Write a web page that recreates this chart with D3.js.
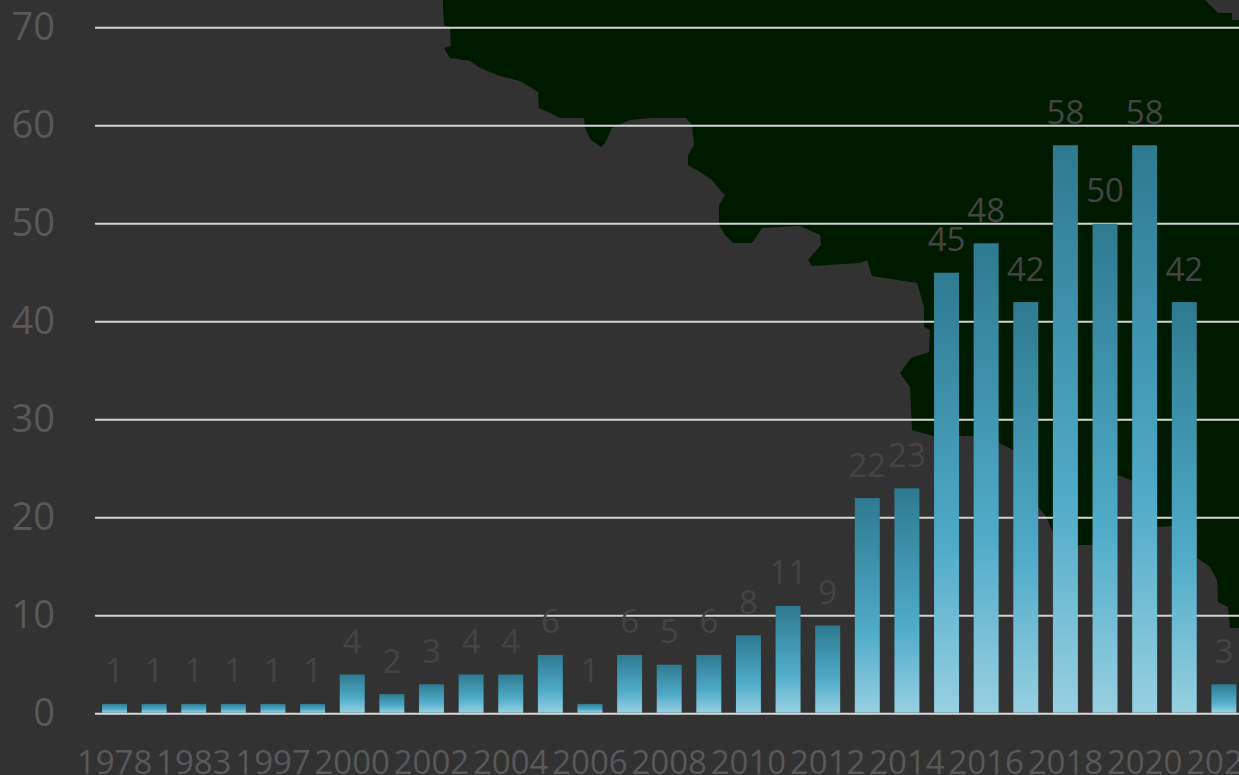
<!DOCTYPE html>
<html><head><meta charset="utf-8">
<style>html,body{margin:0;padding:0;background:#323232;overflow:hidden}svg{display:block}</style>
<script src="https://cdn.jsdelivr.net/npm/d3@7"></script>
</head><body><svg id="c" width="1239" height="775"></svg>
<script>
const years = ["1978","1980","1983","1990","1997","1999","2000","2001","2002","2003","2004","2005","2006","2007","2008","2009","2010","2011","2012","2013","2014","2015","2016","2017","2018","2019","2020","2021","2022"];
const counts = [1,1,1,1,1,1,4,2,3,4,4,6,1,6,5,6,8,11,9,22,23,45,48,42,58,50,58,42,3];
const shownYears = years.filter((d,i)=>i%2===0);
const yTicks = [0,10,20,30,40,50,60,70];
// decorative backdrop outline (picture pixels)
const backdropOutline = [[443,0],[443,7],[444,25],[450,28],[451,46],[444,48],[450,58],[470,61],[480,68],[500,76],[520,81],[530,87],[538,92],[539,108],[550,113],[560,118],[584,118],[585,128],[591,140],[601,147],[605,143],[612,128],[630,120],[650,118],[686,118],[692,125],[694,145],[688,155],[688,165],[700,172],[712,180],[720,190],[725,195],[719,205],[719,225],[725,235],[733,243],[752,243],[762,228],[800,226],[820,235],[821,245],[808,260],[812,266],[860,263],[867,260],[872,276],[917,283],[924,307],[924,327],[930,330],[929,352],[911,358],[900,373],[910,387],[912,430],[933,436],[960,436],[974,436],[999,443],[1013,450],[1025,470],[1038,507],[1045,515],[1053,532],[1078,545],[1092,545],[1105,500],[1118,475],[1133,481],[1145,505],[1158,527],[1172,526],[1197,528],[1197,558],[1210,567],[1217,580],[1218,602],[1228,607],[1230,628],[1239,628],[1239,20],[1232,20],[1232,13],[1218,13],[1212,7],[1205,0]];

const W=1239,H=775;
const svg=d3.select("#c");
svg.append("rect").attr("width",W).attr("height",H).attr("fill","#323232");

const x=d3.scaleBand().domain(years).range([94.7,1243.7]).paddingInner(0.37).paddingOuter(0.185);
const y=d3.scaleLinear().domain([0,70]).range([713.7,27.7]);

svg.append("path").attr("d",d3.line()(backdropOutline)+"Z").attr("fill","#001a00");

const defs=svg.append("defs");
const g=defs.append("linearGradient").attr("id","barGrad").attr("x1",0).attr("y1",0).attr("x2",0).attr("y2",1);
[[0,"#2e7a90"],[0.62,"#4fabc8"],[1,"#97d0e1"]].forEach(s=>g.append("stop").attr("offset",s[0]).attr("stop-color",s[1]));

const font='"Open Sans",sans-serif';
// grid
svg.append("g").selectAll("line").data(yTicks).join("line")
  .attr("x1",95).attr("x2",W).attr("y1",d=>y(d)).attr("y2",d=>y(d))
  .attr("stroke",d=>d===0?"#d9d9d9":"#d4d4d4").attr("stroke-width",2);

// y axis labels
const ya=svg.append("g").attr("transform","translate(95,0)")
  .call(d3.axisLeft(y).tickValues(yTicks).tickSize(0).tickPadding(40));
ya.select(".domain").remove();
ya.selectAll("text").attr("font-family",font).attr("font-size",38).attr("fill","#595959");

// x axis labels
const xa=svg.append("g").attr("transform","translate(0,713.7)")
  .call(d3.axisBottom(x).tickValues(shownYears).tickSize(0).tickPadding(0));
xa.select(".domain").remove();
xa.selectAll("text").attr("font-family",font).attr("font-size",33).attr("fill","#595959").attr("dy",null).attr("y",60);

// bars
svg.append("g").selectAll("rect").data(years).join("rect")
  .attr("x",d=>x(d)).attr("width",x.bandwidth())
  .attr("y",(d,i)=>y(counts[i])).attr("height",(d,i)=>y(0)-y(counts[i])-1)
  .attr("fill","url(#barGrad)");

// value labels
svg.append("g").selectAll("text").data(years).join("text")
  .attr("x",d=>x(d)+x.bandwidth()/2).attr("y",(d,i)=>y(counts[i])-21.5)
  .attr("text-anchor","middle").attr("font-family",font).attr("font-size",33).attr("fill","#444444")
  .text((d,i)=>counts[i]);
</script></body></html>
